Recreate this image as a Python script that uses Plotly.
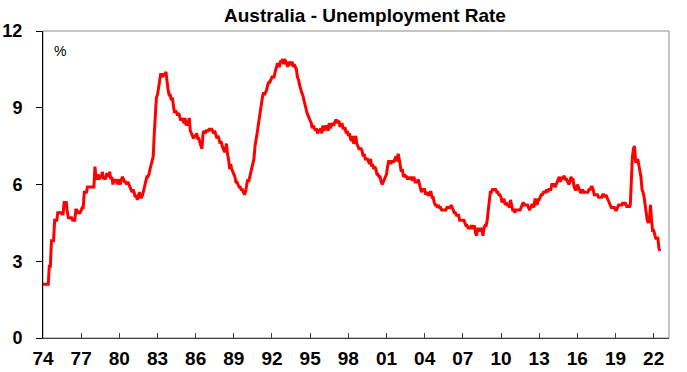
import plotly.graph_objects as go
import pandas as pd

# Monthly unemployment rate (%), Jan 1974 - Jul 2022
ur_1974_1979 = [
    2.1, 2.1, 2.1, 2.1, 2.1, 2.1, 2.8, 2.8, 3.8, 3.8, 3.8, 4.6,   # 1974
    4.6, 4.6, 4.9, 4.9, 4.9, 4.9, 4.85, 4.85, 5.3, 5.3, 5.3, 4.9,  # 1975
    4.7, 4.7, 4.7, 4.7, 4.6, 4.6, 4.6, 5.0, 5.0, 4.9, 4.9, 4.9,   # 1976
    5.0, 5.1, 5.1, 5.7, 5.7, 5.7, 5.9, 5.9, 5.9, 5.9, 5.9, 5.9,   # 1977
    5.9, 6.7, 6.3, 6.2, 6.4, 6.2, 6.3, 6.3, 6.5, 6.2, 6.3, 6.2,   # 1978
    6.4, 6.4, 6.3, 6.5, 6.2, 6.3, 6.0, 6.2, 6.1, 6.2, 6.0, 6.2,   # 1979
]
ur_1980s = [
    6.1, 6.0, 6.2, 6.3, 6.2, 6.1, 6.1, 6.0, 6.1, 6.0, 5.9, 5.8,   # 1980
    5.7, 5.8, 5.7, 5.5, 5.6, 5.4, 5.6, 5.7, 5.5, 5.5, 5.6, 5.8,   # 1981
    5.9, 6.1, 6.3, 6.3, 6.4, 6.6, 6.8, 7.0, 7.1, 8.0, 9.0, 9.4,   # 1982
    9.5, 9.8, 10.0, 10.3, 10.3, 10.2, 10.3, 10.3, 10.4, 9.9, 9.7, 9.5,  # 1983
    9.5, 9.3, 9.4, 9.1, 8.8, 8.9, 8.8, 8.7, 8.8, 8.6, 8.5, 8.6,   # 1984
    8.5, 8.4, 8.6, 8.3, 8.5, 8.3, 8.6, 8.1, 8.0, 7.9, 7.8, 7.9,   # 1985
    7.9, 8.0, 7.8, 7.8, 7.6, 7.5, 7.4, 8.0, 8.1, 8.0, 8.1, 8.1,   # 1986
    8.1, 8.2, 8.1, 8.2, 8.1, 8.0, 8.1, 7.9, 7.8, 7.9, 7.8, 7.6,   # 1987
    7.7, 7.5, 7.4, 7.3, 7.3, 7.6, 7.2, 7.0, 6.6, 6.8, 6.6, 6.5,   # 1988
    6.4, 6.3, 6.1, 6.1, 6.0, 5.9, 5.9, 5.8, 5.8, 5.7, 5.6, 5.7,   # 1989
]
ur_1990s = [
    6.0, 6.2, 6.1, 6.3, 6.4, 6.6, 6.8, 7.0, 7.5, 7.7, 8.0, 8.3,   # 1990
    8.6, 8.9, 9.3, 9.4, 9.6, 9.5, 9.6, 9.7, 9.9, 10.0, 10.0, 10.1,  # 1991
    10.2, 10.2, 10.2, 10.4, 10.6, 10.7, 10.7, 10.6, 10.8, 10.8, 10.9, 10.7,  # 1992
    10.9, 10.8, 10.7, 10.6, 10.8, 10.7, 10.7, 10.8, 10.6, 10.7, 10.6, 10.5,  # 1993
    10.2, 10.1, 9.9, 9.7, 9.6, 9.5, 9.3, 9.2, 9.0, 8.8, 8.7, 8.6,  # 1994
    8.5, 8.4, 8.2, 8.3, 8.2, 8.1, 8.2, 8.0, 8.1, 8.1, 8.2, 8.0,   # 1995
    8.3, 8.1, 8.2, 8.3, 8.2, 8.1, 8.4, 8.2, 8.3, 8.4, 8.3, 8.4,   # 1996
    8.5, 8.5, 8.4, 8.5, 8.3, 8.3, 8.4, 8.2, 8.2, 8.2, 8.0, 8.1,   # 1997
    7.9, 8.0, 7.8, 7.7, 7.9, 7.6, 7.7, 7.9, 7.6, 7.5, 7.4, 7.4,   # 1998
    7.4, 7.3, 7.1, 7.2, 7.0, 7.0, 7.0, 6.9, 6.8, 7.0, 6.7, 6.8,   # 1999
]
ur_2000s = [
    6.6, 6.7, 6.6, 6.4, 6.4, 6.3, 6.3, 6.1, 6.0, 6.1, 6.2, 6.3,   # 2000
    6.4, 6.7, 6.9, 6.9, 6.8, 6.9, 6.9, 6.9, 7.0, 7.1, 6.9, 7.2,   # 2001
    7.0, 6.8, 6.5, 6.6, 6.3, 6.4, 6.3, 6.3, 6.2, 6.3, 6.2, 6.3,   # 2002
    6.2, 6.2, 6.3, 6.1, 6.1, 6.1, 6.2, 6.0, 5.9, 5.7, 5.8, 5.8,   # 2003
    5.8, 5.6, 5.7, 5.6, 5.6, 5.7, 5.7, 5.5, 5.5, 5.3, 5.2, 5.2,   # 2004
    5.1, 5.2, 5.1, 5.1, 5.0, 5.0, 5.0, 5.0, 5.0, 5.1, 5.1, 5.1,   # 2005
    5.1, 5.2, 5.1, 5.0, 4.9, 4.9, 4.8, 4.8, 4.8, 4.6, 4.6, 4.6,   # 2006
    4.6, 4.6, 4.5, 4.4, 4.4, 4.3, 4.3, 4.3, 4.4, 4.3, 4.3, 4.4,   # 2007
    4.1, 4.0, 4.3, 4.2, 4.2, 4.3, 4.2, 4.0, 4.3, 4.4, 4.4, 4.6,   # 2008
    5.0, 5.5, 5.7, 5.7, 5.8, 5.8, 5.8, 5.8, 5.7, 5.7, 5.6, 5.6,   # 2009
]
ur_2010s = [
    5.5, 5.3, 5.4, 5.4, 5.2, 5.3, 5.2, 5.2, 5.1, 5.4, 5.2, 5.0,   # 2010
    5.0, 4.9, 5.0, 5.0, 5.0, 5.0, 5.0, 5.1, 5.2, 5.3, 5.2, 5.2,   # 2011
    5.2, 5.2, 5.1, 5.0, 5.1, 5.2, 5.2, 5.1, 5.4, 5.4, 5.2, 5.4,   # 2012
    5.4, 5.5, 5.6, 5.6, 5.7, 5.7, 5.7, 5.8, 5.7, 5.8, 5.8, 5.8,   # 2013
    6.0, 6.0, 6.0, 5.9, 6.0, 6.1, 6.2, 6.3, 6.1, 6.3, 6.2, 6.3,   # 2014
    6.3, 6.2, 6.2, 6.1, 6.0, 6.1, 6.3, 6.2, 6.2, 5.9, 5.8, 5.8,   # 2015
    6.0, 5.9, 5.8, 5.7, 5.7, 5.8, 5.7, 5.7, 5.7, 5.7, 5.7, 5.8,   # 2016
    5.8, 5.9, 5.9, 5.8, 5.6, 5.6, 5.6, 5.6, 5.5, 5.5, 5.5, 5.5,   # 2017
    5.6, 5.6, 5.5, 5.6, 5.5, 5.4, 5.3, 5.2, 5.1, 5.1, 5.1, 5.1,   # 2018
    5.0, 5.0, 5.1, 5.2, 5.2, 5.2, 5.2, 5.3, 5.2, 5.3, 5.2, 5.1,   # 2019
]
ur_2020s = [
    5.2, 5.1, 5.2, 6.3, 7.1, 7.4, 7.5, 6.9, 6.9, 7.0, 6.8, 6.6,   # 2020
    6.3, 5.8, 5.7, 5.5, 5.1, 4.9, 4.6, 4.5, 4.6, 5.2, 4.6, 4.2,   # 2021
    4.2, 4.0, 3.9, 3.9, 3.9, 3.5, 3.4,                            # 2022
]

values = ur_1974_1979 + ur_1980s + ur_1990s + ur_2000s + ur_2010s + ur_2020s
dates = pd.date_range("1974-01-01", periods=len(values), freq="MS")

tick_years = list(range(1974, 2023, 3))
tick_labels = [f"{y % 100:02d}" for y in tick_years]
y_ticks = [0, 3, 6, 9, 12]

FONT = "Liberation Sans, Arial, sans-serif"

fig = go.Figure()
fig.add_trace(go.Scatter(
    x=dates, y=values, mode="lines",
    line=dict(color="#FF0000", width=3),
    hoverinfo="skip", showlegend=False,
))

fig.update_layout(
    width=687, height=372,
    margin=dict(l=43, r=18, t=31, b=34),
    paper_bgcolor="white", plot_bgcolor="white",
    font=dict(family=FONT, color="black"),
    title=dict(
        text="Australia - Unemployment Rate",
        x=365 / 687, xanchor="center", y=1 - 15 / 372, yanchor="middle",
        font=dict(family=FONT, size=19, weight="bold", color="black"),
    ),
    shapes=[dict(type="rect", xref="paper", yref="paper", x0=0, x1=1, y0=0, y1=1,
                 line=dict(color="#8c8c8c", width=1), layer="below")],
    annotations=[dict(text="%", xref="paper", yref="paper", x=9 / 626, y=1 - 20 / 307,
                      xanchor="left", yanchor="middle", showarrow=False,
                      font=dict(family=FONT, size=14, color="black"))],
)

fig.update_xaxes(
    type="date",
    range=["1974-01-01", "2023-03-17"],
    tickvals=[f"{y}-01-01" for y in tick_years],
    ticktext=tick_labels,
    showgrid=False, zeroline=False, automargin=False,
    showline=True, linecolor="#404040", linewidth=1,
    ticks="inside", ticklen=5, tickcolor="#404040",
    tickfont=dict(family=FONT, size=19, weight="bold", color="black"),
    ticklabelstandoff=3,
)
fig.update_yaxes(
    range=[0, 12],
    tickvals=y_ticks,
    showgrid=False, zeroline=False, automargin=False,
    showline=True, linecolor="black", linewidth=1,
    ticks="outside", ticklen=6, tickcolor="black",
    tickfont=dict(family=FONT, size=18, weight="bold", color="black"),
    ticklabelstandoff=10,
)

fig.write_html("out.html")
